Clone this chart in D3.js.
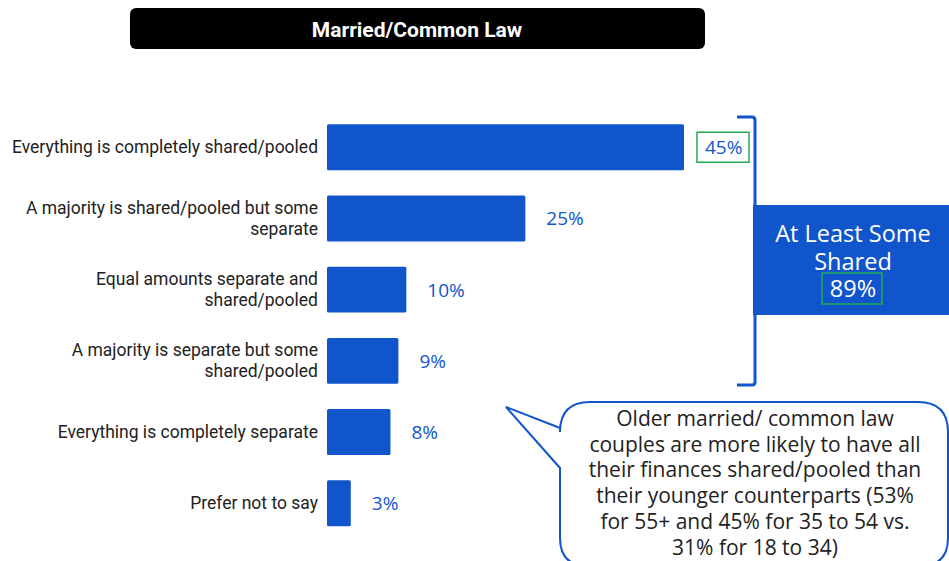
<!DOCTYPE html>
<html>
<head>
<meta charset="utf-8">
<script src="https://cdn.jsdelivr.net/npm/d3@7"></script>
<style>
  body { margin: 0; background: #fff; }
  svg { display: block; }
</style>
</head>
<body>
<svg id="chart" width="949" height="561"></svg>
<script>
// data
const title = 'Married/Common Law'
const categories = [
  ['Everything is completely shared/pooled'],
  ['A majority is shared/pooled but some', 'separate'],
  ['Equal amounts separate and', 'shared/pooled'],
  ['A majority is separate but some', 'shared/pooled'],
  ['Everything is completely separate'],
  ['Prefer not to say']
]
const values = [45, 25, 10, 9, 8, 3]
const summaryLines = ['At Least Some', 'Shared']
const summaryValue = 89
const noteLines = [
  'Older married/ common law',
  'couples are more likely to have all',
  'their finances shared/pooled than',
  'their younger counterparts (53%',
  'for 55+ and 45% for 35 to 54 vs.',
  '31% for 18 to 34)'
]

const blue = '#1155cc'
const green = '#22aa55'
const svg = d3.select('#chart')

// title bar
svg.append('rect')
  .attr('x', 130).attr('y', 8)
  .attr('width', 575).attr('height', 41)
  .attr('rx', 6)
  .attr('fill', '#000')
svg.append('text')
  .attr('x', 417).attr('y', 37)
  .attr('text-anchor', 'middle')
  .attr('font-family', 'Roboto')
  .attr('font-weight', 'bold')
  .attr('font-size', 21)
  .attr('fill', '#fff')
  .text(title)

// scales
const x = d3.scaleLinear().domain([0, 45]).range([327, 684])
const y = d3.scaleBand()
  .domain(d3.range(values.length))
  .range([110, 540.5])
  .paddingInner(0.355)
  .paddingOuter(0.2)

const rows = svg.append('g').selectAll('g')
  .data(values)
  .join('g')

rows.append('rect')
  .attr('x', x(0))
  .attr('y', (d, i) => y(i))
  .attr('width', d => x(d) - x(0))
  .attr('height', y.bandwidth())
  .attr('rx', 1.5)
  .attr('fill', blue)

rows.append('text')
  .attr('x', d => x(d) + 21)
  .attr('y', (d, i) => y(i) + y.bandwidth() / 2 + 7)
  .attr('font-family', 'Open Sans')
  .attr('font-size', 19)
  .attr('fill', blue)
  .text(d => d + '%')

// category labels
rows.append('text')
  .attr('text-anchor', 'end')
  .attr('font-family', 'Roboto')
  .attr('font-size', 17.5)
  .attr('fill', '#222')
  .each(function (d, i) {
    const lines = categories[i]
    const cy = y(i) + y.bandwidth() / 2
    const top = cy - (lines.length - 1) * 21 / 2 + 6
    d3.select(this).selectAll('tspan')
      .data(lines)
      .join('tspan')
      .attr('x', 318)
      .attr('y', (l, j) => top + j * 21)
      .text(l => l)
  })

// highlight box around the first value
svg.append('rect')
  .attr('x', x(values[0]) + 13).attr('y', y(0) + 8)
  .attr('width', 52).attr('height', 30)
  .attr('fill', 'none')
  .attr('stroke', green)
  .attr('stroke-width', 1.5)

// bracket
svg.append('path')
  .attr('d', 'M737,117 L752,117 Q755,117 755,120 L755,382 Q755,385 752,385 L737,385')
  .attr('fill', 'none')
  .attr('stroke', blue)
  .attr('stroke-width', 3)

// summary box
svg.append('rect')
  .attr('x', 753).attr('y', 205)
  .attr('width', 196).attr('height', 110)
  .attr('fill', blue)
const sum = svg.append('text')
  .attr('text-anchor', 'middle')
  .attr('font-family', 'Open Sans')
  .attr('font-size', 23.5)
  .attr('fill', '#fff')
sum.selectAll('tspan')
  .data(summaryLines.concat([summaryValue + '%']))
  .join('tspan')
  .attr('x', 853)
  .attr('y', (d, i) => 242 + i * 27.5)
  .text(d => d)
svg.append('rect')
  .attr('x', 822).attr('y', 273)
  .attr('width', 60).attr('height', 31)
  .attr('fill', 'none')
  .attr('stroke', green)
  .attr('stroke-width', 1.5)

// callout bubble
svg.append('path')
  .attr('d', 'M590,402 L918,402 Q948,402 948,432 L948,538 Q948,566 920,566 L588,566 Q560,566 560,538 L560,468 L506,407 L560,428 L560,432 Q560,402 590,402 Z')
  .attr('fill', '#fff')
  .attr('stroke', blue)
  .attr('stroke-width', 2)
const note = svg.append('text')
  .attr('text-anchor', 'middle')
  .attr('font-family', 'Open Sans')
  .attr('font-size', 21)
  .attr('fill', '#222')
note.selectAll('tspan')
  .data(noteLines)
  .join('tspan')
  .attr('x', 755)
  .attr('y', (d, i) => 426 + i * 25.7)
  .text(d => d)
</script>
</body>
</html>
